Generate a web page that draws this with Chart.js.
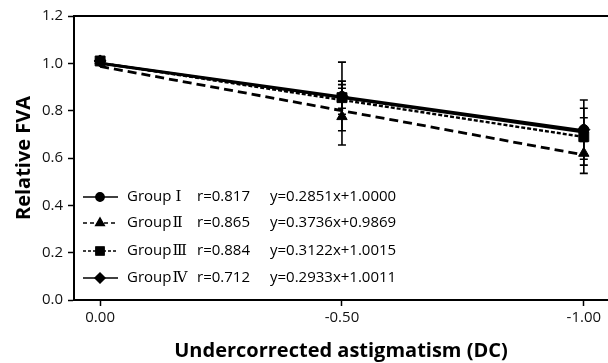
<!DOCTYPE html>
<html>
<head>
<meta charset="utf-8">
<script src="https://cdn.jsdelivr.net/npm/chart.js@4.4.0/dist/chart.umd.min.js"></script>
<style>
    html, body { margin: 0; padding: 0; background: #fff; }
    #wrap { width: 608px; height: 363px; }
</style>
</head>
<body>
<div id="wrap"><canvas id="fvaChart"></canvas></div>
<script>
// Values
const xValues = [0, -0.5, -1];
const xTicks = [0, -0.5, -1];
const yTicks = [0, 0.2, 0.4, 0.6, 0.8, 1.0, 1.2];

const groupNumerals = ['\u2160', '\u2161', '\u2162', '\u2163'];
const rValues = ['r=0.817', 'r=0.865', 'r=0.884', 'r=0.712'];
const equations = ['y=0.2851x+1.0000', 'y=0.3736x+0.9869', 'y=0.3122x+1.0015', 'y=0.2933x+1.0011'];

const meanI = [1.01, 0.86, 0.72];
const meanII = [1.01, 0.775, 0.62];
const meanIII = [1.01, 0.855, 0.69];
const meanIV = [1.01, 0.86, 0.72];

const sdI = [0, 0.145, 0.125];
const sdII = [0, 0.12, 0.085];
const sdIII = [0, 0.07, 0.12];
const sdIV = [0, 0.05, 0.05];

// fitted lines, end points at 0.00 and -1.00
const fitX = [0, -1];
const fitI = [1.0, 0.715];
const fitII = [0.987, 0.613];
const fitIII = [1.0015, 0.689];
const fitIV = [1.0011, 0.708];

const styles = [
    { shape: 'circle', radius: 5, dash: [], width: 3 },
    { shape: 'triangle', radius: 6, dash: [9, 5], width: 2.8 },
    { shape: 'rect', radius: 7, dash: [4, 2], width: 2.4 },
    { shape: 'rectRot', radius: 6, dash: [], width: 2.2 }
];

const means = [meanI, meanII, meanIII, meanIV];
const sds = [sdI, sdII, sdIII, sdIV];
const fits = [fitI, fitII, fitIII, fitIV];

const pts = (xs, ys) => xs.map((x, i) => ({ x: x, y: ys[i] }));

const datasets = [];
fits.forEach((f, i) => {
    datasets.push({
        type: 'line',
        data: pts(fitX, f),
        borderColor: '#000',
        borderWidth: styles[i].width,
        borderDash: styles[i].dash,
        pointRadius: 0,
        fill: false,
        order: 2
    });
});
means.forEach((m, i) => {
    datasets.push({
        type: 'scatter',
        data: pts(xValues, m),
        sd: sds[i],
        pointStyle: styles[i].shape,
        pointRadius: styles[i].radius,
        backgroundColor: '#000',
        borderColor: '#000',
        borderWidth: 1,
        clip: false,
        order: 1
    });
});

const FONT = "'Open Sans', 'Noto Sans', sans-serif";

// error bars, top frame and the in-plot legend
const extras = {
    id: 'extras',
    beforeDatasetsDraw(chart) {
        const ctx = chart.ctx;
        const xs = chart.scales.x, ys = chart.scales.y;
        ctx.save();
        ctx.strokeStyle = '#000';
        ctx.lineWidth = 1.6;
        chart.data.datasets.forEach(ds => {
            if (!ds.sd) return;
            ds.data.forEach((p, j) => {
                const s = ds.sd[j];
                if (!s) return;
                const px = xs.getPixelForValue(p.x);
                const top = ys.getPixelForValue(p.y + s);
                const bot = ys.getPixelForValue(p.y - s);
                ctx.beginPath();
                ctx.moveTo(px, top); ctx.lineTo(px, bot);
                ctx.moveTo(px - 4, top); ctx.lineTo(px + 4, top);
                ctx.moveTo(px - 4, bot); ctx.lineTo(px + 4, bot);
                ctx.stroke();
            });
        });
        ctx.restore();
    },
    afterDraw(chart) {
        const ctx = chart.ctx;
        const a = chart.chartArea;
        ctx.save();
        ctx.strokeStyle = '#000';
        ctx.lineWidth = 2;
        ctx.beginPath();
        ctx.moveTo(a.left, a.top);
        ctx.lineTo(a.right, a.top);
        ctx.stroke();

        const rowY = [197, 223, 251, 278];
        const legendDash = [[], [4, 3], [3, 2], []];
        ctx.fillStyle = '#000';
        ctx.textBaseline = 'middle';
        rowY.forEach((y, i) => {
            ctx.lineWidth = 1.3;
            ctx.setLineDash(legendDash[i]);
            ctx.beginPath();
            ctx.moveTo(83, y); ctx.lineTo(118, y);
            ctx.stroke();
            ctx.setLineDash([]);
            Chart.helpers.drawPoint(ctx, {
                pointStyle: styles[i].shape,
                radius: styles[i].radius * 0.85,
                borderWidth: 1
            }, 100, y);
            ctx.fill();
            ctx.font = '15px ' + FONT;
            ctx.fillText('Group', 127, y);
            const gw = ctx.measureText('Group').width;
            ctx.font = "15px 'DejaVu Serif', serif";
            ctx.fillText(groupNumerals[i], 127 + gw + (i === 0 ? 4 : 1), y);
            ctx.font = '15px ' + FONT;
            ctx.fillText(rValues[i], 197, y);
            ctx.fillText(equations[i], 270, y);
        });
        ctx.restore();
    }
};

new Chart(document.getElementById('fvaChart'), {
    data: { datasets: datasets },
    options: {
        responsive: true,
        maintainAspectRatio: false,
        animation: false,
        layout: { autoPadding: false, padding: { top: 16, right: 0, left: 0, bottom: 0 } },
        plugins: {
            legend: { display: false },
            tooltip: { enabled: false }
        },
        scales: {
            x: {
                type: 'linear',
                min: -1.05,
                max: 0.054,
                reverse: true,
                afterBuildTicks: s => { s.ticks = xTicks.map(v => ({ value: v })); },
                afterFit: s => { s.height = 63; s.paddingRight = 0; s.paddingLeft = 0; },
                ticks: {
                    color: '#111',
                    font: { family: FONT, size: 15 },
                    padding: 3,
                    callback: v => v.toFixed(2)
                },
                grid: { display: true, drawOnChartArea: false, tickLength: 6, color: '#000', tickWidth: 1.5 },
                border: { display: true, color: '#000', width: 2 },
                title: {
                    display: true,
                    text: 'Undercorrected astigmatism (DC)',
                    color: '#000',
                    font: { family: FONT, size: 20, weight: 'bold' },
                    padding: { top: 0, bottom: 0 }
                }
            },
            y: {
                min: 0,
                max: 1.2,
                afterBuildTicks: s => { s.ticks = yTicks.map(v => ({ value: v })); },
                afterFit: s => { s.width = 74; },
                ticks: {
                    color: '#111',
                    font: { family: FONT, size: 15 },
                    padding: 5,
                    callback: v => v.toFixed(1)
                },
                grid: { display: true, drawOnChartArea: false, tickLength: 6, color: '#000', tickWidth: 1.5 },
                border: { display: true, color: '#000', width: 2 },
                title: {
                    display: true,
                    text: 'Relative FVA',
                    color: '#000',
                    font: { family: FONT, size: 20, weight: 'bold' },
                    padding: { top: 12, bottom: 0 }
                }
            }
        }
    },
    plugins: [extras]
});
</script>
</body>
</html>
